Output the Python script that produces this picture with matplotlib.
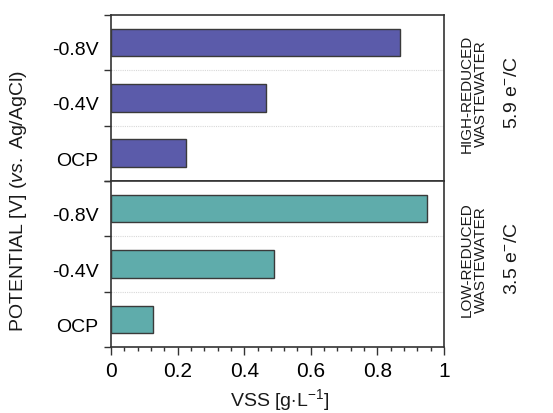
import numpy as np
import matplotlib.pyplot as plt
import matplotlib.transforms as mtransforms
from matplotlib.ticker import FixedLocator, MultipleLocator

potentials = ["OCP", "-0.4V", "-0.8V"]
vss_high = [0.224, 0.464, 0.868]   # high-reduced wastewater
vss_low = [0.126, 0.489, 0.948]    # low-reduced wastewater
groups = [("HIGH-REDUCED\nWASTEWATER", "5.9 e$^{-}$/C", vss_high, "#5b5baa"),
          ("LOW-REDUCED\nWASTEWATER", "3.5 e$^{-}$/C", vss_low, "#5facab")]

plt.rcParams['font.family'] = ['Liberation Sans', 'DejaVu Sans']
plt.rcParams['mathtext.fontset'] = 'custom'
plt.rcParams['mathtext.rm'] = 'Liberation Sans'
plt.rcParams['mathtext.it'] = 'Liberation Sans:style=italic'

fig = plt.figure(figsize=(5.53, 4.14), dpi=100)
left, right = 0.2007, 0.8029
tops = [0.9614, 0.5604]
h = 0.4010
txt_col = "#1a1a1a"

axes = []
for i, (name, ratio, vals, col) in enumerate(groups):
    ax = fig.add_axes([left, tops[i] - h, right - left, h])
    y = np.arange(len(potentials))
    ax.barh(y, vals, height=0.5, color=col, edgecolor="#3a3a3a", linewidth=1.0, zorder=3)
    ax.set_xlim(0, 1)
    ax.set_ylim(-0.5, 2.5)
    ax.set_yticks(y)
    ax.set_yticklabels(potentials, fontsize=14)
    ax.tick_params(axis='y', which='major', length=0, pad=9)
    shift = mtransforms.ScaledTranslation(0, -5 / 100, fig.dpi_scale_trans)
    for lbl in ax.get_yticklabels():
        lbl.set_transform(lbl.get_transform() + shift)
    ax.yaxis.set_minor_locator(FixedLocator([-0.5, 0.5, 1.5, 2.5]))
    ax.tick_params(axis='y', which='minor', length=5, width=1.0, color="#333333", direction='out')
    for b in (0.5, 1.5):
        ax.axhline(b, color="#d8d8d8", lw=0.8, ls=(0, (1, 1)), zorder=1)
    for s in ax.spines.values():
        s.set_color("#333333")
        s.set_linewidth(1.2)
    ax.text(1.09, 0.53, name, transform=ax.transAxes, rotation=90, ha='center', va='center',
            fontsize=11, color=txt_col, linespacing=1.0)
    ax.text(1.205, 0.54, ratio, transform=ax.transAxes, rotation=90, ha='center', va='center',
            fontsize=14, color=txt_col)
    axes.append(ax)

axes[0].tick_params(axis='x', which='both', bottom=False, labelbottom=False)
ax = axes[1]
ax.xaxis.set_ticks([0, 0.2, 0.4, 0.6, 0.8, 1.0])
ax.set_xticklabels(["0", "0.2", "0.4", "0.6", "0.8", "1"], fontsize=15)
ax.xaxis.set_minor_locator(MultipleLocator(0.04))
ax.tick_params(axis='x', which='major', length=6, width=1.0, color="#333333", pad=4)
ax.tick_params(axis='x', which='minor', length=3, width=1.0, color="#333333")

fig.text(0.506, 0.019, "VSS [g$\\cdot$L$^{-1}$]", ha='center', va='baseline',
         fontsize=14, color=txt_col)
fig.text(0.034, 0.515, "POTENTIAL [V] ($\\mathit{vs.}$ Ag/AgCl)", rotation=90,
         ha='center', va='center', fontsize=14, color=txt_col)

fig.savefig("out.png", dpi=100)
